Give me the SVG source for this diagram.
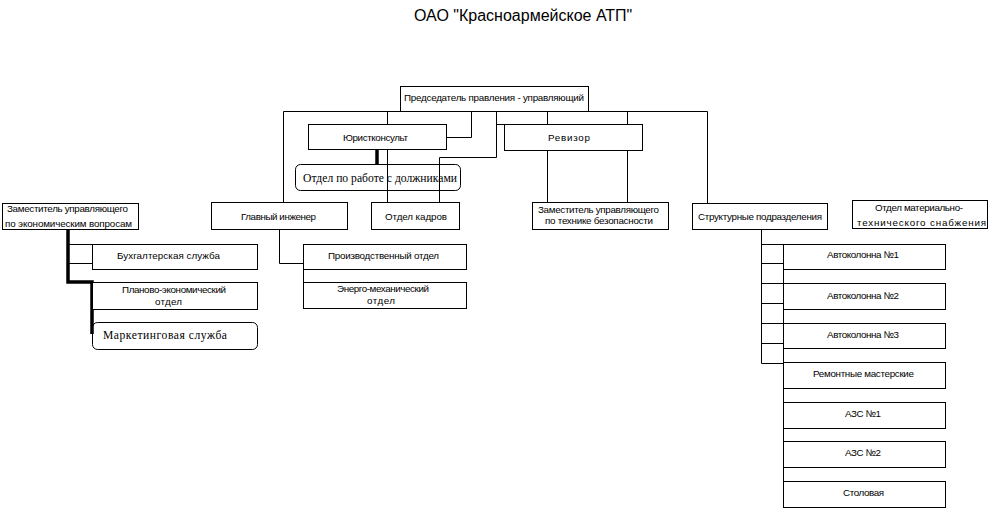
<svg xmlns="http://www.w3.org/2000/svg" width="990" height="509" viewBox="0 0 990 509">
<style>
.bg{fill:#fff}
.box{fill:#fff;stroke:#000;stroke-width:1}
.rbox{fill:none;stroke:#000;stroke-width:1}
.ln{fill:none;stroke:#000;stroke-width:1}
.thick{fill:none;stroke:#000;stroke-width:3.5}
.t{font-family:"Liberation Sans",Arial,sans-serif;font-size:9.8px;fill:#000}
.s{font-family:"Liberation Serif","Times New Roman",serif;font-size:11.6px;fill:#000}
.title{font-family:"Liberation Sans",Arial,sans-serif;font-size:16px;fill:#000}
</style>
<rect class="bg" x="0" y="0" width="990" height="509"/>
<text id="title" class="title" x="414" y="21">ОАО "Красноармейское АТП"</text>
<g id="connectors">
<path class="ln" d="M283.5 111.5H707.5"/>
<path class="ln" d="M283.5 111.5V202.5"/>
<path class="ln" d="M387.5 111.5V202.5"/>
<path class="ln" d="M471.5 111.5V137.5H446"/>
<path class="ln" d="M496.5 111.5V157.5H439.5V202.5"/>
<path class="ln" d="M496.5 124.5H504"/>
<path class="ln" d="M547.5 111.5V202.5"/>
<path class="ln" d="M627.5 111.5V202.5"/>
<path class="ln" d="M707.5 111.5V203"/>
<path class="thick" d="M377 149V164"/>
<path class="thick" d="M68 229V282H92V334"/>
<path class="ln" d="M68 244.5H92.5M68 263.5H92.5"/>
<path class="ln" d="M279.5 229V263.5H303.5V282"/>
<path class="ln" d="M761.5 229V363.5H783.5"/>
<path class="ln" d="M761.5 244.5H783.5M761.5 263.5H783.5M761.5 283.5H783.5M761.5 303.5H783.5M761.5 323.5H783.5M761.5 343.5H783.5"/>
<path class="ln" d="M783.5 244V495"/>
</g>
<g id="chairman"><rect class="box" x="400.5" y="86.5" width="188" height="25"/><text class="t" x="404" y="101" textLength="180" lengthAdjust="spacing">Председатель правления - управляющий</text></g>
<g id="jurist"><rect class="box" x="308.5" y="124.5" width="138" height="25"/><text class="t" x="343" y="141" textLength="65" lengthAdjust="spacing">Юристконсульт</text></g>
<g id="revizor"><rect class="box" x="504.5" y="124.5" width="138" height="26"/><text class="t" x="548" y="141" textLength="42" lengthAdjust="spacing">Ревизор</text></g>
<g id="debtors"><rect class="rbox" x="295.5" y="164.5" width="165" height="26" rx="5"/><text class="s" x="303" y="182" textLength="154" lengthAdjust="spacing">Отдел по работе с должниками</text></g>
<path class="ln" d="M387.5 164V191M439.5 164V191"/>
<g id="zam-econ"><rect class="box" x="2.5" y="203.5" width="136" height="26"/><text class="t" x="7" y="212" textLength="121" lengthAdjust="spacing">Заместитель управляющего</text><text class="t" x="5" y="227" textLength="127" lengthAdjust="spacing">по экономическим вопросам</text></g>
<g id="chief-engineer"><rect class="box" x="211.5" y="202.5" width="136" height="27"/><text class="t" x="241" y="220" textLength="75" lengthAdjust="spacing">Главный инженер</text></g>
<g id="hr"><rect class="box" x="371.5" y="202.5" width="88" height="27"/><text class="t" x="416" y="220" text-anchor="middle" textLength="62" lengthAdjust="spacing">Отдел кадров</text></g>
<g id="zam-safety"><rect class="box" x="532.5" y="202.5" width="136" height="27"/><text class="t" x="538" y="213" textLength="121" lengthAdjust="spacing">Заместитель управляющего</text><text class="t" x="545" y="224" textLength="108" lengthAdjust="spacing">по технике безопасности</text></g>
<g id="structural"><rect class="box" x="692.5" y="203.5" width="135" height="26"/><text class="t" x="698" y="220" textLength="124" lengthAdjust="spacing">Структурные подразделения</text></g>
<g id="supply"><rect class="box" x="852.5" y="200.5" width="135" height="28"/><text class="t" x="875" y="211" textLength="88" lengthAdjust="spacing">Отдел материально-</text><text class="t" x="857" y="226" textLength="129" lengthAdjust="spacing">технического снабжения</text></g>
<g id="accounting"><rect class="box" x="92.5" y="244.5" width="165" height="25"/><text class="t" x="117" y="259" textLength="103" lengthAdjust="spacing">Бухгалтерская служба</text></g>
<g id="planning"><rect class="box" x="92.5" y="282.5" width="165" height="27"/><text class="t" x="122" y="293" textLength="104" lengthAdjust="spacing">Планово-экономический</text><text class="t" x="155" y="305" textLength="27" lengthAdjust="spacing">отдел</text></g>
<g id="marketing"><rect class="rbox" x="92.5" y="322.5" width="165" height="27" rx="5"/><text class="s" x="103" y="339" textLength="124" lengthAdjust="spacing">Маркетинговая служба</text></g>
<g id="production"><rect class="box" x="303.5" y="244.5" width="163" height="25"/><text class="t" x="328" y="259" textLength="111" lengthAdjust="spacing">Производственный отдел</text></g>
<g id="energo"><rect class="box" x="303.5" y="282.5" width="163" height="26"/><text class="t" x="337" y="292" textLength="92" lengthAdjust="spacing">Энерго-механический</text><text class="t" x="367" y="304" textLength="28" lengthAdjust="spacing">отдел</text></g>
<g id="column1"><rect class="box" x="783.5" y="244.5" width="162" height="25"/><text class="t" x="827" y="258" textLength="72" lengthAdjust="spacing">Автоколонна №1</text></g>
<g id="column2"><rect class="box" x="783.5" y="283.5" width="162" height="26"/><text class="t" x="827" y="299" textLength="72" lengthAdjust="spacing">Автоколонна №2</text></g>
<g id="column3"><rect class="box" x="783.5" y="323.5" width="162" height="25"/><text class="t" x="827" y="338" textLength="72" lengthAdjust="spacing">Автоколонна №3</text></g>
<g id="repair"><rect class="box" x="783.5" y="362.5" width="162" height="26"/><text class="t" x="813" y="377" textLength="101" lengthAdjust="spacing">Ремонтные мастерские</text></g>
<g id="gas1"><rect class="box" x="783.5" y="402.5" width="162" height="26"/><text class="t" x="845" y="417" textLength="36" lengthAdjust="spacing">АЗС №1</text></g>
<g id="gas2"><rect class="box" x="783.5" y="441.5" width="162" height="26"/><text class="t" x="845" y="456" textLength="36" lengthAdjust="spacing">АЗС №2</text></g>
<g id="canteen"><rect class="box" x="783.5" y="481.5" width="162" height="26"/><text class="t" x="843" y="496" textLength="41" lengthAdjust="spacing">Столовая</text></g>
</svg>
